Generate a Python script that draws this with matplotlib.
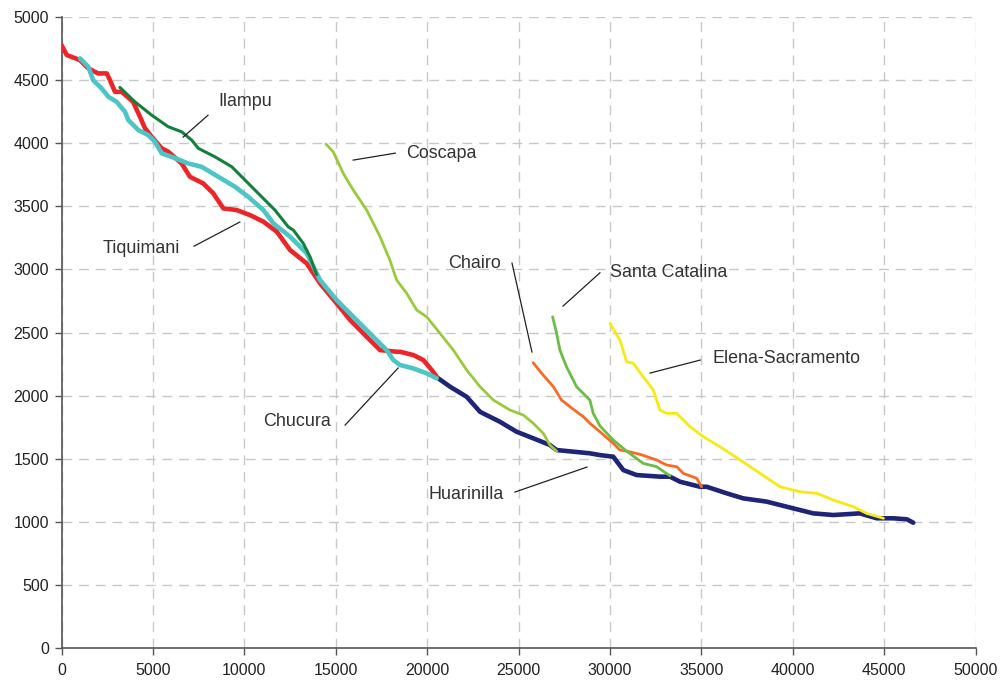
import matplotlib
matplotlib.use("Agg")
import matplotlib.pyplot as plt

plt.rcParams['font.family'] = ['Liberation Sans', 'DejaVu Sans']

# ---- data ----
tiq_x = [0, 280, 1000, 1460, 2000, 2470, 2650, 2920, 3290, 3910, 4290, 4560, 4930, 5480, 5840, 6570, 7020,
         7750, 8300, 8850, 9580, 10310, 11040, 11770, 12500, 13410, 14140, 15050, 15780, 16690, 17420, 18330,
         18510, 19240, 19790, 20250, 20520]
tiq_y = [4778, 4700, 4660, 4594, 4554, 4554, 4500, 4408, 4408, 4329, 4210, 4120, 4052, 3960, 3933, 3840, 3735,
         3682, 3603, 3484, 3471, 3431, 3379, 3300, 3154, 3048, 2890, 2731, 2600, 2467, 2361, 2348,
         2348, 2322, 2282, 2203, 2150]

chu_x = [1010, 1460, 1730, 2190, 2560, 3010, 3470, 3650, 4200, 4740, 5110, 5480, 6020, 6930, 7660, 8570, 9490,
         10210, 11040, 11590, 12500, 13410, 14140, 15050, 15960, 17050, 17780, 18150, 18510, 19240, 19970, 20520]
chu_y = [4673, 4607, 4500, 4435, 4369, 4329, 4250, 4184, 4105, 4065, 4012, 3920, 3893, 3840, 3814, 3735, 3655,
         3576, 3471, 3365, 3260, 3128, 2916, 2757, 2625, 2467, 2361, 2282, 2243, 2216, 2177, 2137]

ila_x = [3190, 4010, 4930, 5840, 6570, 7120, 7480, 8390, 9310, 10040, 10760, 11670, 12400, 12680, 13220, 13590, 13950]
ila_y = [4443, 4329, 4223, 4131, 4091, 4025, 3960, 3893, 3814, 3708, 3603, 3471, 3338, 3312, 3207, 3101, 2960]

cos_x = [14460, 14860, 15410, 15960, 16690, 17420, 17960, 18330, 18880, 19430, 19970, 20700, 21430, 22160,
         22890, 23620, 24530, 25260, 25800, 26350, 26710, 27080]
cos_y = [3994, 3933, 3761, 3629, 3471, 3260, 3074, 2916, 2811, 2678, 2625, 2494, 2361, 2203,
         2071, 1965, 1886, 1846, 1781, 1701, 1609, 1560]

hua_x = [20610, 21250, 22160, 22890, 23980, 24890, 25800, 26710, 27080, 27990, 28900, 29450, 30180, 30730,
         31450, 32730, 33280, 33830, 34920, 35290, 36380, 37290, 38570, 39660, 41120, 42210, 43670, 44590,
         45500, 46240, 46590]
hua_y = [2137, 2071, 1991, 1872, 1793, 1714, 1662, 1609, 1569, 1556, 1543, 1529, 1516, 1410,
         1371, 1358, 1358, 1318, 1278, 1278, 1226, 1186, 1160, 1120, 1067, 1054, 1067, 1028,
         1028, 1020, 993]

cha_x = [25800, 26260, 26900, 27350, 27810, 28540, 28900, 29450, 30180, 30540, 30910, 31640, 32550, 33100,
         33650, 34010, 34740, 35010]
cha_y = [2261, 2177, 2071, 1965, 1912, 1833, 1781, 1714, 1622, 1569, 1560, 1535, 1490, 1450,
         1437, 1384, 1345, 1278]

sca_x = [26860, 27080, 27260, 27620, 28170, 28900, 29080, 29450, 30180, 30910, 31820, 32550, 33280]
sca_y = [2625, 2494, 2361, 2229, 2071, 1965, 1860, 1760, 1648, 1560, 1463, 1437, 1365]

ele_x = [30000, 30540, 30910, 31270, 31820, 32370, 32730, 33100, 33650, 34380, 35110, 36020, 37120, 38210,
         39300, 40400, 41310, 42210, 43310, 44040, 44960]
ele_y = [2573, 2441, 2269, 2256, 2150, 2044, 1886, 1860, 1860, 1754, 1674, 1595, 1490, 1384,
         1278, 1238, 1226, 1173, 1120, 1067, 1028]

names = ["Huarinilla", "Tiquimani", "Chucura", "Ilampu", "Coscapa", "Chairo", "Santa Catalina", "Elena-Sacramento"]

x_ticks = [0, 5000, 10000, 15000, 20000, 25000, 30000, 35000, 40000, 45000, 50000]
y_ticks = [0, 500, 1000, 1500, 2000, 2500, 3000, 3500, 4000, 4500, 5000]

# ---- figure ----
fig = plt.figure(figsize=(10.03, 6.86), dpi=100)
ax = fig.add_axes([0.0614, 0.0554, 0.9113, 0.9196])

series = [
    (hua_x, hua_y, "#1E2477", 3.3),
    (tiq_x, tiq_y, "#EE2528", 3.3),
    (chu_x, chu_y, "#4DC4C6", 3.3),
    (ila_x, ila_y, "#13803C", 2.2),
    (cos_x, cos_y, "#9ACA3C", 2.0),
    (cha_x, cha_y, "#FA6A24", 2.0),
    (sca_x, sca_y, "#6BBE45", 2.0),
    (ele_x, ele_y, "#F7EA14", 2.0),
]
for i, (xs, ys, c, lw) in enumerate(series):
    ax.plot(xs, ys, color=c, lw=lw, solid_capstyle='round', solid_joinstyle='round', zorder=3 + i, label=names[i])

# labels with leader lines (text pos, line start, line end)
labels = [
    ("Ilampu", (8600, 4334), (6650, 4049), (8010, 4223)),
    ("Coscapa", (18850, 3922), (15950, 3867), (18250, 3922)),
    ("Tiquimani", (2250, 3170), (7250, 3185), (9750, 3376)),
    ("Chairo", (21150, 3050), (24640, 3050), (25730, 2346)),
    ("Santa Catalina", (30000, 2979), (27430, 2710), (29450, 2974)),
    ("Elena-Sacramento", (35600, 2298), (32190, 2179), (34930, 2282)),
    ("Chucura", (11050, 1799), (15510, 1767), (18410, 2219)),
    ("Huarinilla", (20050, 1220), (24800, 1236), (28740, 1434)),
]
for txt, tpos, p0, p1 in labels:
    ax.text(tpos[0], tpos[1], txt, fontsize=12.9, color="#333333", ha='left', va='center', zorder=20)
    ax.plot([p0[0], p1[0]], [p0[1], p1[1]], color="#222222", lw=0.9, zorder=20)

ax.set_xlim(0, 50000)
ax.set_ylim(0, 5000)
ax.set_xticks(x_ticks)
ax.set_yticks(y_ticks)
ax.set_xticklabels([str(v) for v in x_ticks])
ax.set_yticklabels([str(v) for v in y_ticks])
ax.tick_params(axis='both', direction='out', length=5, width=1, color="#555555",
               labelsize=11.5, labelcolor="#222222")
ax.tick_params(axis='x', pad=6)
ax.tick_params(axis='y', pad=4)

ax.grid(True, color="#C8C8C8", linestyle=(0, (7, 5)), lw=1.0, zorder=0)
ax.set_axisbelow(True)
for s in ['top', 'right']:
    ax.spines[s].set_visible(False)
for s in ['left', 'bottom']:
    ax.spines[s].set_color("#555555")
    ax.spines[s].set_linewidth(1.2)

fig.savefig("out.png", dpi=100)
